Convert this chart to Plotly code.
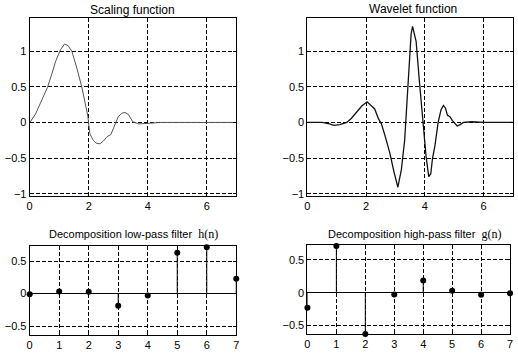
import plotly.graph_objects as go

# Scaling function
phi_x = [0, 0.04, 0.2, 0.43, 0.6, 0.75, 0.88, 1.04, 1.18, 1.3, 1.43, 1.6, 1.77, 1.91, 1.97,
         2.04, 2.15, 2.25, 2.38, 2.5, 2.62, 2.75, 2.88, 3.0, 3.12, 3.23, 3.35, 3.49, 3.7, 3.9,
         4.1, 4.4, 5.0, 6.0, 7.0]
phi_y = [0, 0.02, 0.12, 0.32, 0.49, 0.68, 0.86, 1.02, 1.10, 1.08, 1.0, 0.76, 0.49, 0.21, 0.09,
         -0.16, -0.25, -0.29, -0.30, -0.26, -0.2, -0.17, -0.05, 0.08, 0.13, 0.14, 0.11, 0.01, -0.02, -0.02,
         -0.01, 0.0, 0.0, 0.0, 0.0]

# Wavelet function
psi_x = [0, 0.5, 0.75, 0.9, 1.1, 1.34, 1.5, 1.68, 1.85, 2.03, 2.15, 2.29, 2.42, 2.52, 2.65,
         2.8, 2.95, 3.08, 3.2, 3.31, 3.4, 3.48, 3.53, 3.58, 3.7, 3.81, 3.93, 4.04, 4.13, 4.2,
         4.26, 4.34, 4.45, 4.55, 4.63, 4.7, 4.77, 4.85, 4.93, 5.02, 5.1, 5.2, 5.31, 5.6, 6.0, 7.0]
psi_y = [0, 0, -0.02, -0.04, -0.03, 0, 0.06, 0.15, 0.23, 0.29, 0.25, 0.19, 0.05, -0.02, -0.2,
         -0.42, -0.7, -0.91, -0.66, -0.25, 0.36, 0.96, 1.24, 1.35, 1.14, 0.59, -0.01, -0.48, -0.76, -0.72,
         -0.5, -0.33, 0, 0.18, 0.24, 0.2, 0.1, 0.08, 0.03, -0.02, -0.05, -0.03, 0, 0.01, 0, 0]

# Filters
n = [0, 1, 2, 3, 4, 5, 6, 7]
h_n = [-0.0106, 0.0329, 0.0308, -0.1870, -0.0280, 0.6309, 0.7148, 0.2304]
g_n = [-0.2304, 0.7148, -0.6309, -0.0280, 0.1870, 0.0308, -0.0329, -0.0106]

titles = ["Scaling function", "Wavelet function",
          "Decomposition low-pass filter  <span style='font-family:Liberation Serif;font-size:12px'>h(n)</span>",
          "Decomposition high-pass filter  <span style='font-family:Liberation Serif;font-size:12px'>g(n)</span>"]
title_sizes = [12, 12, 11, 11]

FONT = "Liberation Sans"
W, H = 518, 357

def px(a, b, tot):
    return [a / tot, b / tot]

def py(top, bottom):
    return [1 - bottom / H, 1 - top / H]

fig = go.Figure()

fig.add_trace(go.Scatter(x=phi_x, y=phi_y, mode="lines", line=dict(color="#555555", width=1),
                         xaxis="x", yaxis="y", showlegend=False))
fig.add_trace(go.Scatter(x=psi_x, y=psi_y, mode="lines", line=dict(color="#111111", width=1.3),
                         xaxis="x2", yaxis="y2", showlegend=False))

def stems(xs, ys, xa, ya):
    sx, sy = [], []
    for a, b in zip(xs, ys):
        sx += [a, a, None]
        sy += [0, b, None]
    fig.add_trace(go.Scatter(x=sx, y=sy, mode="lines", line=dict(color="black", width=1),
                             xaxis=xa, yaxis=ya, showlegend=False))
    fig.add_trace(go.Scatter(x=xs, y=ys, mode="markers", marker=dict(color="black", size=6),
                             xaxis=xa, yaxis=ya, showlegend=False, cliponaxis=False))

stems(n, h_n, "x3", "y3")
stems(n, g_n, "x4", "y4")

axcommon = dict(showline=True, linecolor="black", linewidth=1, mirror="ticks",
                ticks="inside", ticklen=3, tickcolor="black",
                showgrid=True, gridcolor="black", gridwidth=1, griddash="4px,2px",
                tickfont=dict(family=FONT, size=11, color="black"), zeroline=False,
                ticklabeloverflow="allow")
xcommon = dict(axcommon, ticklabelstandoff=0)

fig.update_layout(
    width=W, height=H, margin=dict(l=0, r=0, t=0, b=0),
    paper_bgcolor="white", plot_bgcolor="white",
    xaxis=dict(xcommon, domain=px(27, 236, W), range=[0, 7], tickvals=[0, 2, 4, 6], anchor="y"),
    yaxis=dict(axcommon, domain=py(18, 198), range=[-1.03, 1.47], tickvals=[-1, -0.5, 0, 0.5, 1], anchor="x"),
    xaxis2=dict(xcommon, domain=px(308, 516, W), range=[0, 7], tickvals=[0, 2, 4, 6], anchor="y2"),
    yaxis2=dict(axcommon, domain=py(18, 198), range=[-1.03, 1.47], tickvals=[-1, -0.5, 0, 0.5, 1], anchor="x2"),
    xaxis3=dict(xcommon, domain=px(27, 236, W), range=[0, 7], tickvals=n, anchor="y3"),
    yaxis3=dict(axcommon, domain=py(249, 339), range=[-0.64, 0.73], tickvals=[-0.5, 0, 0.5], anchor="x3",
                zeroline=True, zerolinecolor="black", zerolinewidth=1),
    xaxis4=dict(xcommon, domain=px(308, 513, W), range=[0, 7], tickvals=n, anchor="y4"),
    yaxis4=dict(axcommon, domain=py(248, 338), range=[-0.635, 0.725], tickvals=[-0.5, 0, 0.5], anchor="x4",
                zeroline=True, zerolinecolor="black", zerolinewidth=1),
)

title_pos = [(131, 10), (415, 9), (132, 237), (416, 237)]
for t, s, (cx, cy) in zip(titles, title_sizes, title_pos):
    fig.add_annotation(text=t, x=cx / W, y=1 - cy / H, xref="paper", yref="paper",
                       showarrow=False, xanchor="center", yanchor="middle",
                       font=dict(family=FONT, size=s, color="black"))

fig.write_html("out.html", config={"displayModeBar": False, "staticPlot": True},
               post_script="document.body.style.margin='0';document.body.style.overflow='hidden';")
